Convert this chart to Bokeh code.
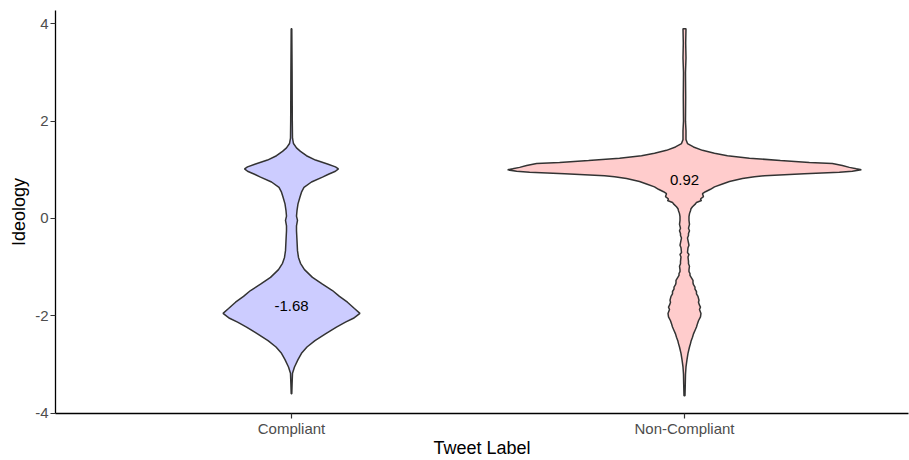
from bokeh.plotting import figure
from bokeh.models import Range1d, FixedTicker
from bokeh.core.properties import value
from bokeh.embed import file_html
from bokeh.resources import INLINE

# ---- data ----
categories = ["Compliant", "Non-Compliant"]
medians = [-1.68, 0.92]
median_labels = ["-1.68", "0.92"]
y_ticks = [-4, -2, 0, 2, 4]
y_tick_labels = ["-4", "-2", "0", "2", "4"]
x_title = "Tweet Label"
y_title = "Ideology"

comp_y = [-3.60, -3.40, -3.18, -3.05, -2.90, -2.77, -2.64, -2.51, -2.37, -2.23,
          -2.13, -2.05, -1.95, -1.85, -1.72, -1.60, -1.48, -1.35, -1.21, -1.05,
          -0.92, -0.80, -0.66, -0.45, -0.25, -0.15, -0.04, 0.05, 0.16, 0.30,
          0.44, 0.54, 0.64, 0.75, 0.85, 0.91, 0.97, 1.02, 1.06, 1.12,
          1.20, 1.29, 1.38, 1.45, 1.54, 1.65, 2.00, 3.00, 3.90]
comp_density = [0.3, 0.6, 1.0, 3.0, 6.5, 10.0, 15.5, 23.5, 34.0, 45.0,
                54.0, 62.0, 68.5, 63.0, 56.0, 48.0, 41.0, 31.0, 21.0, 13.0,
                9.0, 7.0, 6.0, 5.5, 5.0, 5.0, 6.0, 5.0, 5.5, 6.5,
                8.5, 10.0, 12.5, 20.0, 31.0, 37.0, 44.0, 47.0, 44.0, 36.0,
                24.0, 15.0, 9.0, 5.0, 2.0, 1.0, 0.8, 0.6, 0.3]

nonc_y = [-3.64, -3.40, -3.20, -3.05, -2.90, -2.77, -2.64, -2.57, -2.51, -2.44,
          -2.37, -2.30, -2.23, -2.16, -2.10, -2.02, -1.95, -1.87, -1.82, -1.78,
          -1.72, -1.68, -1.60, -1.55, -1.50, -1.45, -1.41, -1.36, -1.32, -1.27,
          -1.22, -1.17, -1.13, -1.09, -1.05, -0.98, -0.93, -0.88, -0.79, -0.74,
          -0.70, -0.60, -0.55, -0.50, -0.40, -0.35, -0.31, -0.25, -0.20, -0.12,
          -0.04, 0.04, 0.10, 0.16, 0.20, 0.24, 0.30, 0.33, 0.37, 0.40,
          0.45, 0.51, 0.55, 0.60, 0.65, 0.71, 0.76, 0.82, 0.86, 0.88,
          0.92, 0.95, 0.97, 1.00, 1.02, 1.05, 1.09, 1.13, 1.15, 1.19,
          1.24, 1.29, 1.34, 1.40, 1.47, 1.54, 1.62, 1.80, 2.00, 2.50,
          3.00, 3.30, 3.60, 3.90]
nonc_density = [0.5, 0.8, 1.0, 1.5, 2.5, 3.5, 5.0, 6.0, 6.7, 8.0,
                9.0, 10.5, 12.0, 13.0, 14.0, 16.0, 16.5, 15.0, 16.0, 15.0,
                14.0, 14.5, 13.5, 12.0, 12.0, 10.5, 10.5, 9.0, 8.5, 8.5,
                7.0, 5.5, 5.5, 4.5, 4.5, 5.0, 4.0, 4.0, 3.5, 4.5,
                3.0, 3.5, 4.5, 4.0, 3.0, 4.0, 4.0, 5.0, 4.0, 5.0,
                4.5, 4.5, 5.0, 6.0, 6.5, 8.0, 11.0, 12.0, 17.0, 16.0,
                19.0, 18.0, 21.0, 26.0, 30.0, 38.0, 45.0, 58.0, 70.0, 80.0,
                120.0, 155.0, 168.0, 177.0, 172.0, 165.0, 158.0, 148.0, 125.0, 96.0,
                65.0, 43.0, 30.0, 18.0, 9.0, 3.0, 1.5, 1.5, 1.0, 1.2,
                1.0, 1.5, 1.2, 1.5]

fills = ["#CCCCFF", "#FFCCCC"]

# ---- figure ----
p = figure(width=909, height=460, output_backend="svg", toolbar_location=None,
           x_range=Range1d(0.3995, 2.57), y_range=Range1d(-4.006, 4.273),
           min_border_left=55, min_border_right=1, min_border_top=10, min_border_bottom=0)
p.grid.visible = False
p.outline_line_color = None
p.background_fill_color = "white"

max_d = max(max(comp_density), max(nonc_density))
half_max = 0.45
for i, (ys, ds) in enumerate([(comp_y, comp_density), (nonc_y, nonc_density)]):
    c = i + 1
    hw = [d / max_d * half_max for d in ds]
    xs = [c + h for h in hw] + [c - h for h in reversed(hw)]
    yy = list(ys) + list(reversed(ys))
    p.patch(xs, yy, fill_color=fills[i], line_color="#333333", line_width=1.5)

p.text(x=[1, 2], y=medians, text=median_labels, text_align="center", text_baseline="top",
       text_font=value("Liberation Sans"), text_font_size="15px", text_color="black",
       y_offset=1)

for ax in (p.xaxis[0], p.yaxis[0]):
    ax.axis_line_color = "black"
    ax.axis_line_width = 1.3
    ax.major_tick_line_color = "#333333"
    ax.major_tick_line_width = 1.2
    ax.major_tick_out = 5
    ax.major_tick_in = 0
    ax.minor_tick_line_color = None
    ax.major_label_text_font = "Liberation Sans"
    ax.major_label_text_font_size = "15px"
    ax.major_label_text_color = "#4D4D4D"
    ax.axis_label_text_font = "Liberation Sans"
    ax.axis_label_text_font_size = "18px"
    ax.axis_label_text_font_style = "normal"
    ax.axis_label_text_color = "black"

p.xaxis.ticker = FixedTicker(ticks=[1, 2])
p.xaxis.major_label_overrides = {1: categories[0], 2: categories[1]}
p.xaxis.major_label_standoff = 1
p.xaxis.axis_label = x_title
p.xaxis.axis_label_standoff = -2

p.yaxis.ticker = FixedTicker(ticks=y_ticks)
p.yaxis.major_label_overrides = dict(zip(y_ticks, y_tick_labels))
p.yaxis.axis_label = y_title
p.yaxis.major_label_standoff = 2
p.yaxis.axis_label_standoff = 3

open("out.html", "w").write(file_html(p, INLINE))
